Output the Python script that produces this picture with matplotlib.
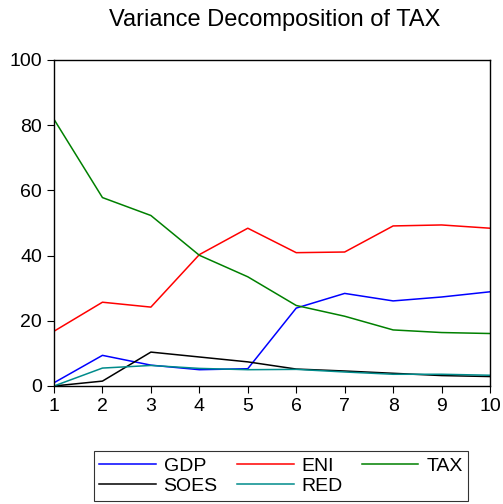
import matplotlib
matplotlib.use("Agg")
import matplotlib.pyplot as plt

plt.rcParams['font.family'] = ['Liberation Sans', 'DejaVu Sans']

periods = [1, 2, 3, 4, 5, 6, 7, 8, 9, 10]
gdp = [1.0, 9.4, 6.4, 5.0, 5.3, 23.9, 28.4, 26.1, 27.3, 28.9]
eni = [16.8, 25.7, 24.2, 40.3, 48.4, 40.9, 41.1, 49.1, 49.4, 48.4]
tax = [81.8, 57.8, 52.3, 40.1, 33.5, 24.7, 21.4, 17.2, 16.4, 16.1]
soes = [0.0, 1.5, 10.4, 8.9, 7.4, 5.2, 4.6, 3.9, 3.2, 2.9]
red = [0.0, 5.5, 6.3, 5.4, 5.0, 5.1, 4.3, 3.6, 3.6, 3.3]

fig = plt.figure(figsize=(5.03, 5.04), dpi=100)
ax = fig.add_axes([54 / 503, 1 - 386 / 504, 436 / 503, 326 / 504])

l_gdp, = ax.plot(periods, gdp, color='blue', lw=1.1)
l_eni, = ax.plot(periods, eni, color='red', lw=1.1)
l_tax, = ax.plot(periods, tax, color='green', lw=1.1)
l_soes, = ax.plot(periods, soes, color='black', lw=1.1)
l_red, = ax.plot(periods, red, color='#008b8b', lw=1.1)

ax.set_xlim(1, 10)
ax.set_ylim(0, 100)
ax.set_xticks(periods)
ax.set_yticks([0, 20, 40, 60, 80, 100])
ax.tick_params(direction='out', length=5, labelsize=14, top=False, right=False)
for s in ax.spines.values():
    s.set_linewidth(1.0)

fig.text(275 / 503, 1 - 20 / 504, 'Variance Decomposition of TAX', ha='center', va='center', fontsize=17)

# matplotlib fills legend columns first, so order handles to read row by row
leg = fig.legend([l_gdp, l_soes, l_eni, l_red, l_tax], ['GDP', 'SOES', 'ENI', 'RED', 'TAX'],
                 loc='center', bbox_to_anchor=(281 / 503, 1 - 476 / 504), ncol=3,
                 fontsize=14, frameon=True, fancybox=False, handlelength=2.9,
                 columnspacing=1.0, handletextpad=0.4, borderpad=0.3, labelspacing=0.15)
leg.get_frame().set_edgecolor('black')
leg.get_frame().set_linewidth(0.8)

fig.savefig('out.png', dpi=100)
